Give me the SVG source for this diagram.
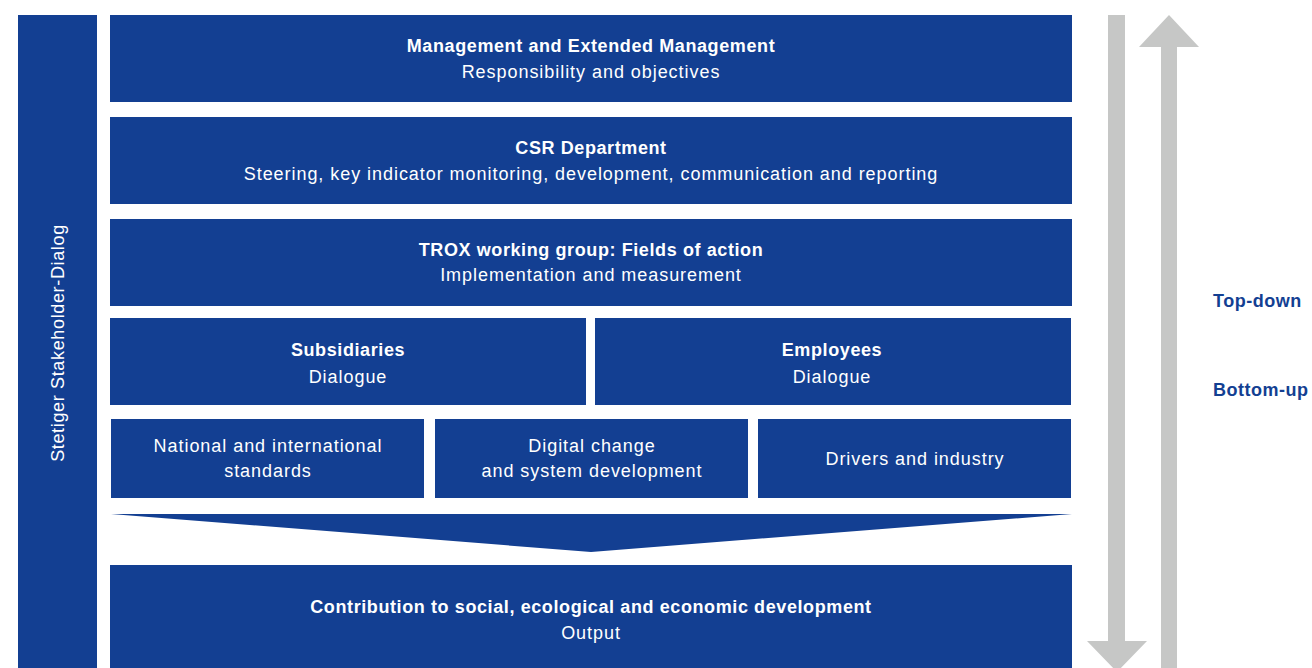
<svg xmlns="http://www.w3.org/2000/svg" width="1312" height="668" viewBox="0 0 1312 668">
<style>
.box{fill:#133f92}
.t{font-family:"Liberation Sans",Arial,sans-serif;font-size:18px;fill:#ffffff;text-anchor:middle;letter-spacing:0.95px}
.b{font-weight:bold;letter-spacing:0.6px}
.side{letter-spacing:0.65px}
.arr{fill:#c6c7c6}
.lbl{font-family:"Liberation Sans",Arial,sans-serif;font-size:18px;font-weight:bold;fill:#133f92;letter-spacing:0.5px}
</style>
<rect width="1312" height="668" fill="#ffffff"/>
<g id="stakeholder">
<rect class="box" x="18" y="15" width="79" height="653"/>
<text class="t side" transform="translate(64,343) rotate(-90)">Stetiger Stakeholder-Dialog</text>
</g>
<g id="management">
<rect class="box" x="110" y="15" width="962" height="87"/>
<text class="t b" x="591" y="52">Management and Extended Management</text>
<text class="t" x="591" y="78">Responsibility and objectives</text>
</g>
<g id="csr">
<rect class="box" x="110" y="117" width="962" height="87"/>
<text class="t b" x="591" y="154">CSR Department</text>
<text class="t" x="591" y="180">Steering, key indicator monitoring, development, communication and reporting</text>
</g>
<g id="trox">
<rect class="box" x="110" y="219" width="962" height="87"/>
<text class="t b" x="591" y="256">TROX working group: Fields of action</text>
<text class="t" x="591" y="281">Implementation and measurement</text>
</g>
<g id="subsidiaries">
<rect class="box" x="110" y="318" width="476" height="87"/>
<text class="t b" x="348" y="356">Subsidiaries</text>
<text class="t" x="348" y="383">Dialogue</text>
</g>
<g id="employees">
<rect class="box" x="595" y="318" width="476" height="87"/>
<text class="t b" x="832" y="356">Employees</text>
<text class="t" x="832" y="383">Dialogue</text>
</g>
<g id="standards">
<rect class="box" x="111" y="419" width="313" height="79"/>
<text class="t" x="268" y="452">National and international</text>
<text class="t" x="268" y="477">standards</text>
</g>
<g id="digital">
<rect class="box" x="435" y="419" width="313" height="79"/>
<text class="t" x="592" y="452">Digital change</text>
<text class="t" x="592" y="477">and system development</text>
</g>
<g id="drivers">
<rect class="box" x="758" y="419" width="313" height="79"/>
<text class="t" x="915" y="465">Drivers and industry</text>
</g>
<g id="funnel">
<polygon class="box" points="111,514 1072,514 591,552"/>
</g>
<g id="output">
<rect class="box" x="110" y="565" width="962" height="103"/>
<text class="t b" x="591" y="613">Contribution to social, ecological and economic development</text>
<text class="t" x="591" y="639">Output</text>
</g>
<g id="connectors">
<polygon class="arr" points="1108,15 1125,15 1125,641 1147,641 1117,672 1087,641 1108,641"/>
<polygon class="arr" points="1161,668 1177,668 1177,47 1199,47 1169,15 1139,47 1161,47"/>
</g>
<g id="labels">
<text class="lbl" x="1213" y="307">Top-down</text>
<text class="lbl" x="1213" y="396">Bottom-up</text>
</g>
</svg>
